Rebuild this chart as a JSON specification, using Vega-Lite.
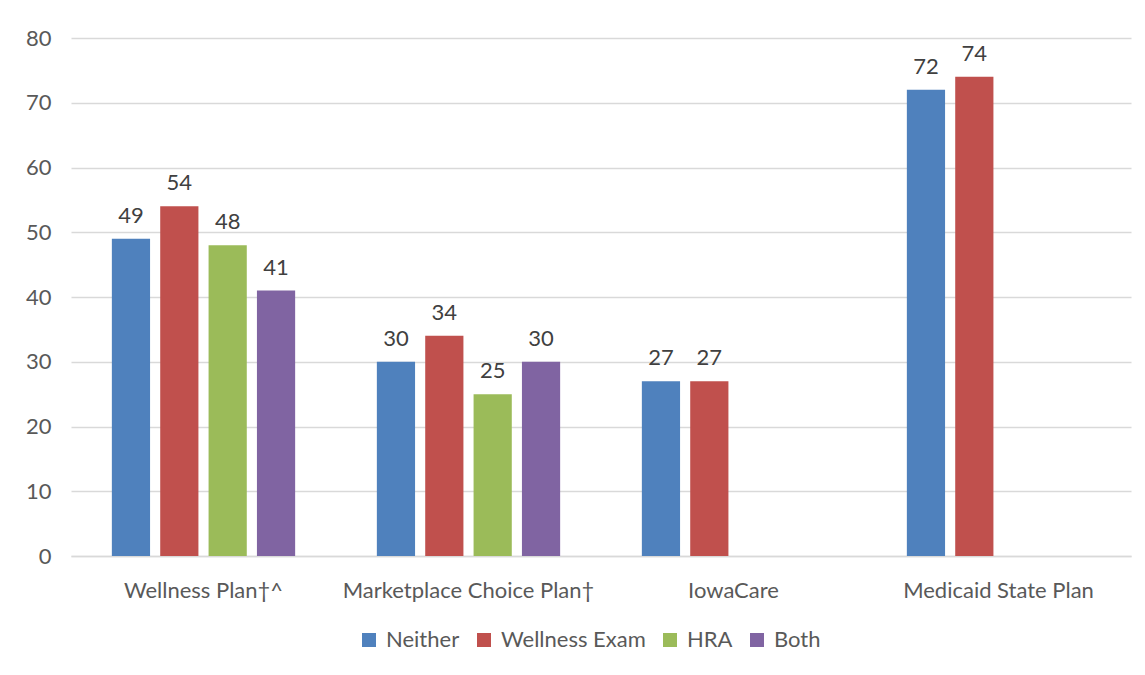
{
  "$schema": "https://vega.github.io/schema/vega-lite/v6.json",
  "width": 1060,
  "height": 518,
  "autosize": {"type": "none"},
  "padding": {"left": 71, "top": 38, "right": 14, "bottom": 119},
  "background": "white",
  "config": {
    "font": "Lato",
    "view": {"stroke": null},
    "axis": {"labelFont": "Lato", "labelFontSize": 22, "labelColor": "#595959", "labelLimit": 0}
  },
  "data": {
    "values": [
      {"plan": "Wellness Plan†^", "group": "Neither", "value": 49},
      {"plan": "Wellness Plan†^", "group": "Wellness Exam", "value": 54},
      {"plan": "Wellness Plan†^", "group": "HRA", "value": 48},
      {"plan": "Wellness Plan†^", "group": "Both", "value": 41},
      {"plan": "Marketplace Choice Plan†", "group": "Neither", "value": 30},
      {"plan": "Marketplace Choice Plan†", "group": "Wellness Exam", "value": 34},
      {"plan": "Marketplace Choice Plan†", "group": "HRA", "value": 25},
      {"plan": "Marketplace Choice Plan†", "group": "Both", "value": 30},
      {"plan": "IowaCare", "group": "Neither", "value": 27},
      {"plan": "IowaCare", "group": "Wellness Exam", "value": 27},
      {"plan": "Medicaid State Plan", "group": "Neither", "value": 72},
      {"plan": "Medicaid State Plan", "group": "Wellness Exam", "value": 74}
    ]
  },
  "encoding": {
    "x": {
      "field": "plan",
      "type": "nominal",
      "sort": ["Wellness Plan†^", "Marketplace Choice Plan†", "IowaCare", "Medicaid State Plan"],
      "scale": {"paddingInner": 0.27, "paddingOuter": 0.135},
      "axis": {
        "title": null,
        "labelAngle": 0,
        "ticks": false,
        "domainColor": "#D9D9D9",
        "domainWidth": 1.5,
        "labelPadding": 41,
        "labelBaseline": "alphabetic"
      }
    },
    "xOffset": {
      "field": "group",
      "type": "nominal",
      "sort": ["Neither", "Wellness Exam", "HRA", "Both"],
      "scale": {"paddingInner": 0.21, "paddingOuter": 0.105}
    },
    "y": {
      "field": "value",
      "type": "quantitative",
      "scale": {"domain": [0, 80]},
      "axis": {
        "title": null,
        "values": [0, 10, 20, 30, 40, 50, 60, 70, 80],
        "ticks": false,
        "domain": false,
        "gridColor": "#D9D9D9",
        "gridWidth": 1.5,
        "labelPadding": 20
      }
    }
  },
  "layer": [
    {
      "mark": {"type": "bar"},
      "encoding": {
        "color": {
          "field": "group",
          "type": "nominal",
          "sort": ["Neither", "Wellness Exam", "HRA", "Both"],
          "scale": {
            "domain": ["Neither", "Wellness Exam", "HRA", "Both"],
            "range": ["#4F81BD", "#C0504D", "#9BBB59", "#8064A2"]
          },
          "legend": {
            "title": null,
            "orient": "none",
            "direction": "horizontal",
            "legendX": 287,
            "legendY": 591,
            "symbolType": "square",
            "symbolSize": 196,
            "symbolStrokeWidth": 0,
            "labelFont": "Lato",
            "labelFontSize": 22,
            "labelColor": "#595959",
            "labelOffset": 6,
            "columnPadding": 13
          }
        }
      }
    },
    {
      "mark": {"type": "text", "fontSize": 22, "color": "#404040", "baseline": "alphabetic", "dy": -16},
      "encoding": {"text": {"field": "value", "type": "quantitative"}}
    }
  ]
}
